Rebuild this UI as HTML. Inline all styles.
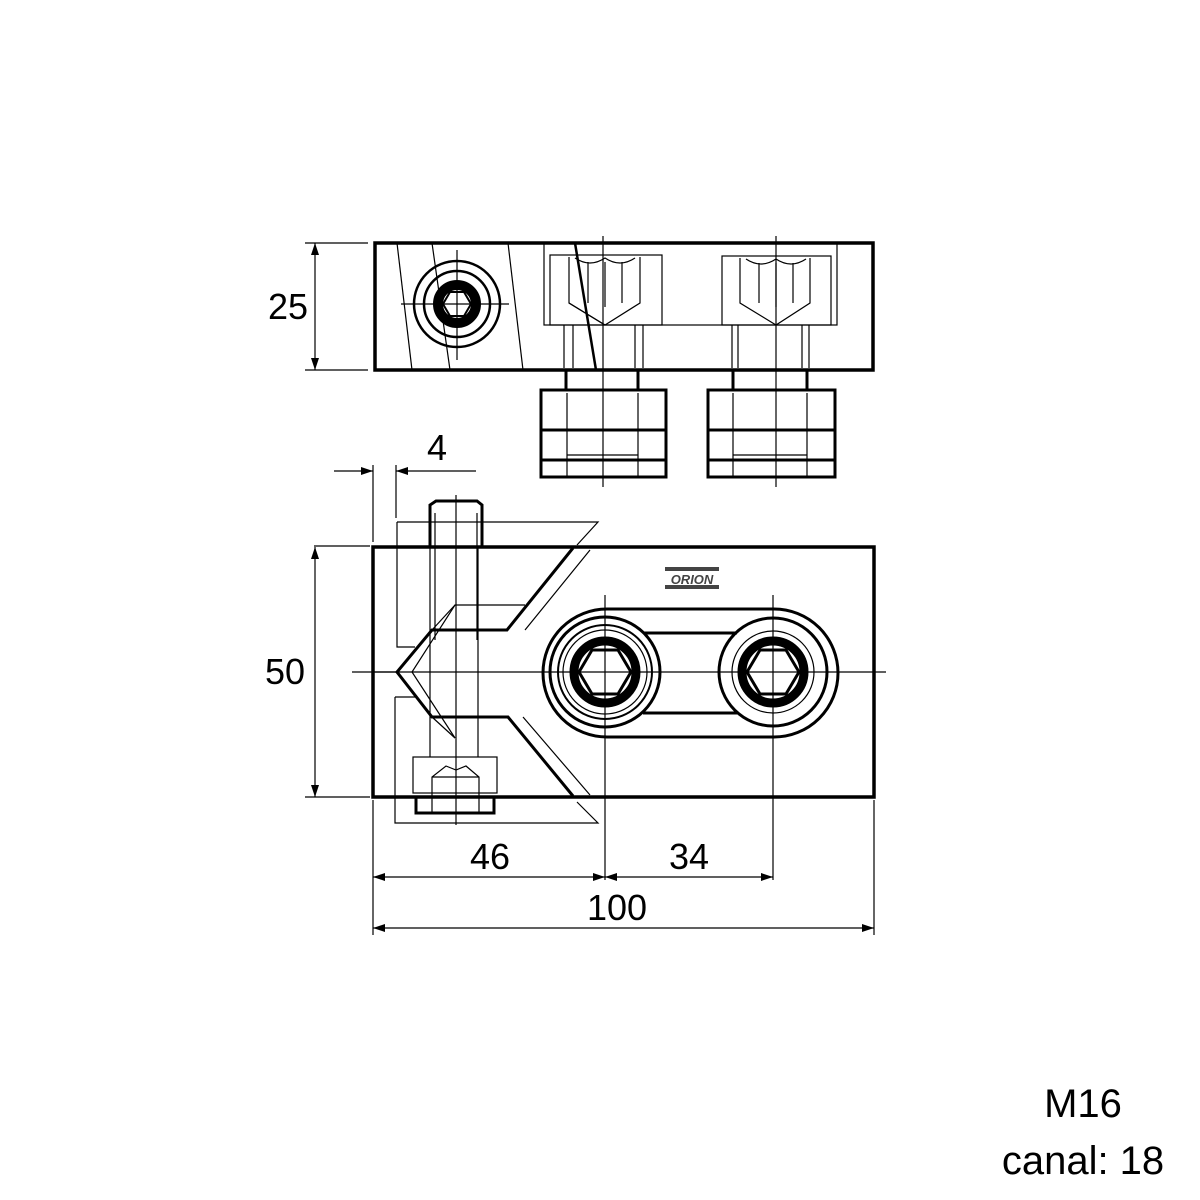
<!DOCTYPE html>
<html><head><meta charset="utf-8"><style>
html,body{margin:0;padding:0;background:#fff;}
svg{display:block}
text{font-family:"Liberation Sans",sans-serif;fill:#000}
</style></head><body>
<svg width="1200" height="1200" viewBox="0 0 1200 1200" xmlns="http://www.w3.org/2000/svg">
<defs>
<marker id="ar" markerWidth="12" markerHeight="8" refX="12" refY="4" orient="auto-start-reverse" markerUnits="userSpaceOnUse"><path d="M0,0 L12,4 L0,8 z" fill="#000"/></marker>
</defs>
<g fill="none" stroke="#000" stroke-width="1.2">
<!-- TOP VIEW -->
<line x1="397" y1="243" x2="412" y2="370"/>
<line x1="432" y1="243" x2="450" y2="370"/>
<line x1="508" y1="243" x2="523" y2="370"/>
<line x1="575" y1="243" x2="596" y2="370" stroke-width="2.5"/>
<rect x="544" y="243" width="293" height="82"/>
<rect x="550" y="255" width="112" height="70"/>
<rect x="722" y="256" width="109" height="69"/>
<path d="M569,257 V303 L605,325 L640,303 V257"/>
<path d="M569,303 L605,325 M575,258 q15,10 30,0 q15,10 30,0 M588,262 V303 M622,262 V303 M605,262 V307"/>
<path d="M740,258 V303 L776,325 L810,303 V258"/>
<path d="M746,259 q15,10 30,0 q15,10 30,0 M759,263 V303 M793,263 V303 M776,263 V307"/>
<path d="M564,325V368 M573,325V368 M635,325V368 M643,325V368"/>
<path d="M732,325V368 M738,325V368 M802,325V368 M809,325V368"/>
<circle cx="457" cy="304" r="43" stroke-width="2.5"/>
<circle cx="457" cy="304" r="33" stroke-width="2.5"/>
<circle cx="457" cy="304" r="19" stroke-width="10"/>
<polygon points="471,304 464,292 450,292 443,304 450,316 464,316" stroke-width="2"/>
<path d="M401,304 H509 M457,250 V360"/>
<path d="M603,236 V487 M776,236 V487"/>
<g stroke-width="3">
<path d="M566,370 V390 M638,370 V390 M733,370 V390 M807,370 V390"/>
<rect x="541" y="390" width="125" height="87"/>
<path d="M541,430 H666 M541,460 H666"/>
<rect x="708" y="390" width="127" height="87"/>
<path d="M708,430 H835 M708,460 H835"/>
</g>
<path d="M567,393 V477 M638,393 V477 M567,455 H638 M733,393 V477 M807,393 V477 M733,455 H807"/>
<rect x="375" y="243" width="498" height="127" stroke-width="3.5"/>

<!-- FRONT VIEW -->
<path d="M397,522 H598 L577,545 M397,522 V647 H415"/>
<path d="M395,697 H415 M395,697 V823 H598 L577,802"/>
<path d="M590,550 L525,630 M525,605 H455 L412,672 L455,738 M523,717 L590,795"/>
<path d="M432,630 L455,605 M432,717 L455,738"/>
<path d="M430,547 V505 L436,501 H477 L482,505 V547" stroke-width="3"/>
<path d="M435,513 V640 M477,513 V640 M430,547 V757 M478,547 V757"/>
<path d="M456,495 V825"/>
<rect x="413" y="757" width="84" height="36"/>
<rect x="416" y="797" width="78" height="16" stroke-width="3"/>
<path d="M432,797 V777 L446,766 L456,770 L466,766 L479,777 V813 M432,777 H479 M432,797 V813"/>
<path d="M573,548 L507,630 H432 L397,672 L432,717 H508 L573,796" stroke-width="3"/>
<path d="M373,672 H397"/>
<rect x="543" y="609" width="295" height="128" rx="64" stroke-width="3"/>
<path d="M643,633 H737 M643,713 H737" stroke-width="3"/>
<circle cx="605" cy="672" r="55" stroke-width="3"/>
<circle cx="605" cy="672" r="47" stroke-width="2"/>
<circle cx="605" cy="672" r="42"/>
<circle cx="605" cy="672" r="31" stroke-width="9"/>
<polygon points="631,672 618,650 592,650 579,672 592,694 618,694" stroke-width="3"/>
<circle cx="773" cy="672" r="54" stroke-width="3"/>
<circle cx="773" cy="672" r="41"/>
<circle cx="773" cy="672" r="31" stroke-width="9"/>
<polygon points="799,672 786,650 760,650 747,672 760,694 786,694" stroke-width="3"/>
<path d="M352,672 H886 M605,595 V880 M773,595 V880"/>
<rect x="373" y="547" width="501" height="250" stroke-width="3.5"/>

<path d="M305,243 H368 M305,370 H368 M314,546 H370 M305,797 H370 M373,465 V542 M396,465 V518"/>
<line x1="315" y1="243" x2="315" y2="370" marker-start="url(#ar)" marker-end="url(#ar)"/>
<line x1="315" y1="547" x2="315" y2="797" marker-start="url(#ar)" marker-end="url(#ar)"/>
<line x1="334" y1="471" x2="373" y2="471" marker-end="url(#ar)"/>
<line x1="476" y1="471" x2="396" y2="471" marker-end="url(#ar)"/>
<path d="M373,800 V935 M874,800 V935"/>
<line x1="373" y1="877" x2="605" y2="877" marker-start="url(#ar)" marker-end="url(#ar)"/>
<line x1="605" y1="877" x2="773" y2="877" marker-start="url(#ar)" marker-end="url(#ar)"/>
<line x1="373" y1="928" x2="874" y2="928" marker-start="url(#ar)" marker-end="url(#ar)"/>
</g>
<rect x="665" y="567" width="54" height="22" fill="#444"/>
<rect x="665" y="571" width="54" height="14" fill="#fff"/>
<text x="692" y="584" font-size="13" font-weight="bold" font-style="italic" text-anchor="middle" style="fill:#444">ORION</text>
<g font-size="36" text-anchor="middle">
<text x="288" y="319">25</text>
<text x="285" y="684">50</text>
<text x="437" y="460">4</text>
<text x="490" y="869">46</text>
<text x="689" y="869">34</text>
<text x="617" y="920">100</text>
<text x="1083" y="1117" font-size="40">M16</text>
<text x="1083" y="1174" font-size="40">canal: 18</text>
</g>
</svg>
</body></html>
